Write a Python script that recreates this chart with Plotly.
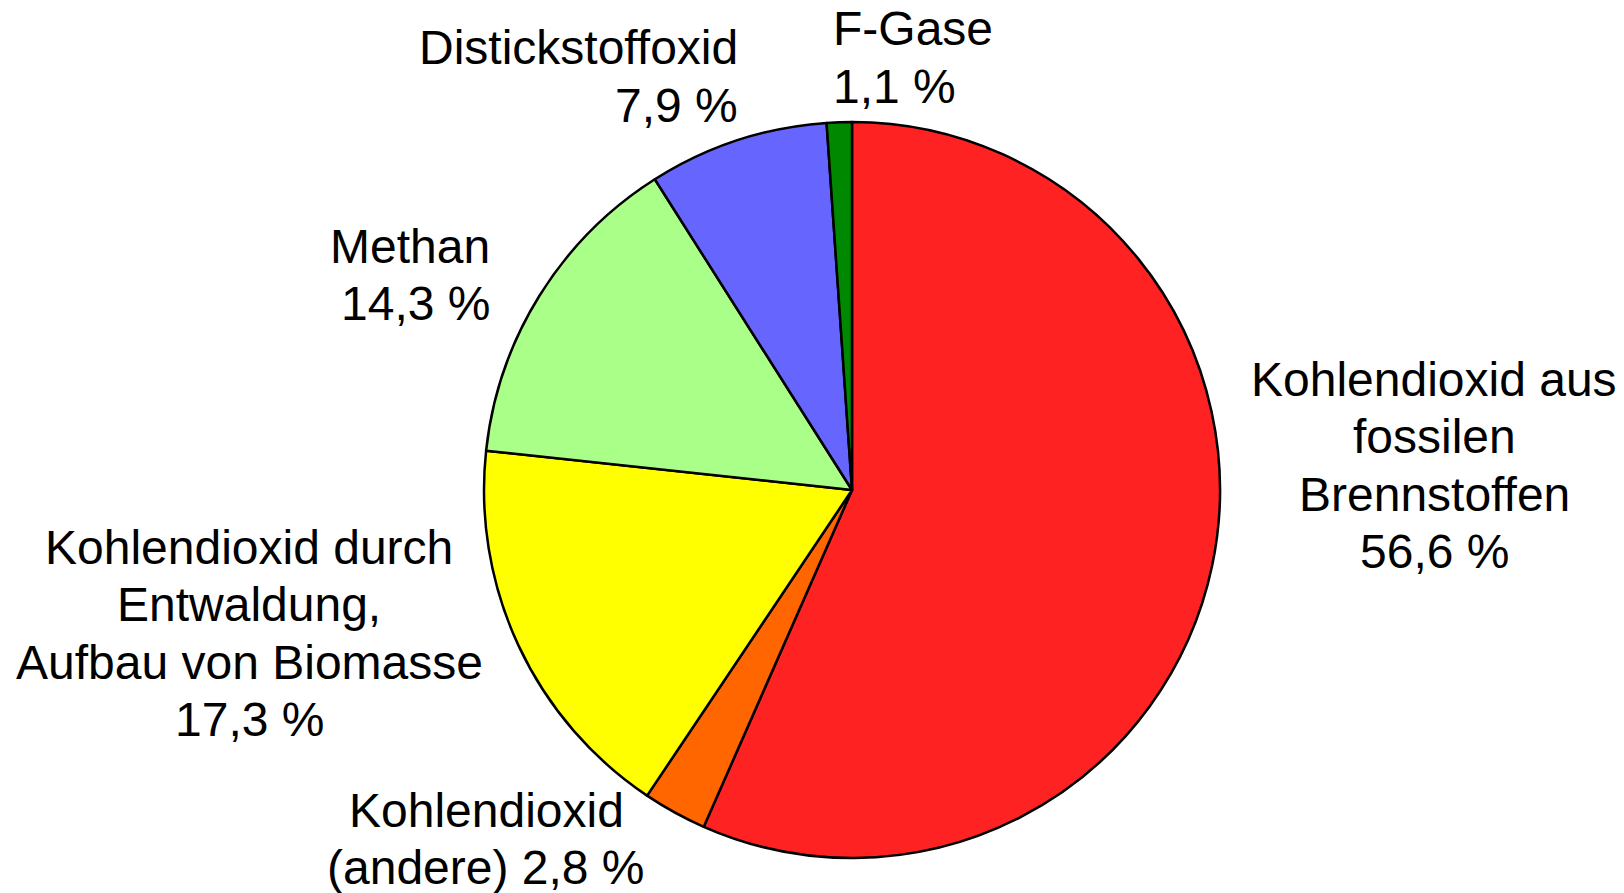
import plotly.graph_objects as go

categories = [
    "Kohlendioxid aus fossilen Brennstoffen",
    "Kohlendioxid (andere)",
    "Kohlendioxid durch Entwaldung, Aufbau von Biomasse",
    "Methan",
    "Distickstoffoxid",
    "F-Gase",
]
values = [56.6, 2.8, 17.3, 14.3, 7.9, 1.1]
colors = ["#FF2222", "#FF6600", "#FFFF00", "#AAFF88", "#6666FF", "#008800"]

label_lines = [
    ["Kohlendioxid aus", "fossilen", "Brennstoffen", "56,6 %"],
    ["Kohlendioxid", "(andere) 2,8 %"],
    ["Kohlendioxid durch", "Entwaldung,", "Aufbau von Biomasse", "17,3 %"],
    ["Methan", "14,3 %"],
    ["Distickstoffoxid", "7,9 %"],
    ["F-Gase", "1,1 %"],
]

W, H = 1624, 893
cx, cy, r = 852, 490, 368

# label anchor positions (pixels): x, first line y, align
label_pos = [
    (1434, 379, "center"),
    (486, 810, "center"),
    (249, 547, "center"),
    (492, 246, "right"),
    (740, 48, "right"),
    (831, 29, "left"),
]
line_step = 57.5
fs = 48

fig = go.Figure(go.Pie(
    labels=categories,
    values=values,
    marker=dict(colors=colors, line=dict(color="black", width=2.5)),
    sort=False,
    direction="clockwise",
    rotation=0,
    textinfo="none",
    hoverinfo="label+percent",
    domain=dict(x=[(cx - r) / W, (cx + r) / W], y=[(H - cy - r) / H, (H - cy + r) / H]),
    showlegend=False,
))

anns = []
for lines, (x, y0, al) in zip(label_lines, label_pos):
    for i, t in enumerate(lines):
        y = y0 + i * line_step
        anns.append(dict(
            text=t, x=x / W, y=1 - y / H, xref="paper", yref="paper",
            xanchor=al, yanchor="middle", showarrow=False, align=al,
            font=dict(family="Liberation Sans, Arial, sans-serif", size=fs, color="black"),
        ))

fig.update_layout(
    width=W, height=H,
    margin=dict(l=0, r=0, t=0, b=0),
    paper_bgcolor="white", plot_bgcolor="white",
    annotations=anns,
)

fig.write_html(
    "out.html",
    config={"displayModeBar": False},
    post_script="document.body.style.margin='0';document.body.style.overflow='hidden';",
)
